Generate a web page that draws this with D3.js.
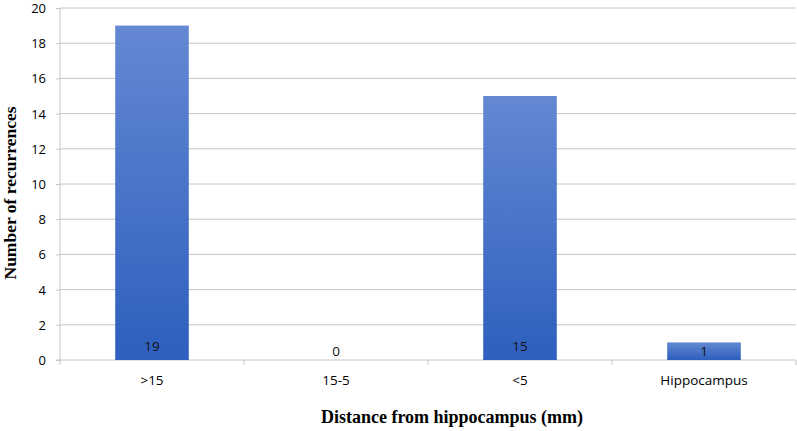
<!DOCTYPE html>
<html><head><meta charset="utf-8">
<script src="https://cdn.jsdelivr.net/npm/d3@7"></script>
<style>body{margin:0;background:#fff}svg{display:block}</style>
</head><body>
<svg id="c" width="797" height="431"></svg>
<script>
const categories = [">15", "15-5", "<5", "Hippocampus"];
const recurrences = [19, 0, 15, 1];
const yTicks = [0, 2, 4, 6, 8, 10, 12, 14, 16, 18, 20];

const svg = d3.select("#c");
const mLeft = 60, mRight = 796, mTop = 8, mBottom = 360;
const sansFont = "'Open Sans', 'Noto Sans', Arial, sans-serif";
const serifFont = "'Liberation Serif', 'Times New Roman', serif";
const x = d3.scaleBand().domain(categories).range([mLeft, mRight]).paddingInner(0.6).paddingOuter(0.3);
const xb = d3.scaleBand().domain(categories).range([mLeft, mRight]);
const y = d3.scaleLinear().domain([0, 20]).range([mBottom, mTop]);

const defs = svg.append("defs");
const g = defs.append("linearGradient").attr("id", "bg").attr("x1", 0).attr("y1", 0).attr("x2", 0).attr("y2", 1);
g.append("stop").attr("offset", "0%").attr("stop-color", "#6488d2");
g.append("stop").attr("offset", "100%").attr("stop-color", "#2e5fbe");

// grid
svg.append("g").selectAll("line").data(yTicks.filter(d => d > 0)).join("line")
  .attr("x1", mLeft).attr("x2", mRight).attr("y1", d => y(d)).attr("y2", d => y(d))
  .attr("stroke", "#c4c4c4").attr("stroke-width", 1);

// y axis
const yAxis = svg.append("g").attr("transform", `translate(${mLeft},0)`)
  .call(d3.axisLeft(y).tickValues(yTicks).tickSize(4).tickPadding(10));
yAxis.select(".domain").attr("stroke", "#c4c4c4").attr("d", `M-4,${y(0)}H0V${y(20)}`);
yAxis.selectAll(".tick line").attr("stroke", "#c4c4c4");
yAxis.selectAll("text").attr("font-family", sansFont).attr("font-size", 13).attr("fill", "#000")
  .attr("dy", "0.34em");

// x axis
const xAxis = svg.append("g").attr("transform", `translate(0,${mBottom})`);
xAxis.append("line").attr("x1", mLeft).attr("x2", mRight).attr("y1", 0).attr("y2", 0).attr("stroke", "#c4c4c4");
const bounds = categories.map(c => xb(c)).concat([xb(categories[categories.length-1]) + xb.bandwidth()]);
xAxis.selectAll("line.t").data(bounds).join("line").attr("class", "t")
  .attr("x1", d => d).attr("x2", d => d).attr("y1", 0).attr("y2", 5).attr("stroke", "#c4c4c4");
xAxis.selectAll("text").data(categories).join("text")
  .attr("x", d => xb(d) + xb.bandwidth() / 2).attr("y", 25).attr("text-anchor", "middle")
  .attr("font-family", sansFont).attr("font-size", 13.5).attr("fill", "#000")
  .text(d => d);

// bars
svg.append("g").selectAll("rect").data(recurrences).join("rect")
  .attr("x", (d, i) => x(categories[i])).attr("width", x.bandwidth())
  .attr("y", d => y(d)).attr("height", d => y(0) - y(d))
  .attr("fill", "url(#bg)");

// value labels
svg.append("g").selectAll("text").data(recurrences).join("text")
  .attr("x", (d, i) => x(categories[i]) + x.bandwidth() / 2)
  .attr("y", d => d >= 2 ? y(0) - 9 : y(0) - 4)
  .attr("text-anchor", "middle")
  .attr("font-family", sansFont).attr("font-size", 13.5).attr("fill", "#111")
  .text(d => d);

// titles
svg.append("text").attr("transform", `translate(16,193) rotate(-90)`)
  .attr("text-anchor", "middle").attr("font-family", serifFont)
  .attr("font-weight", "bold").attr("font-size", 17.5).text("Number of recurrences");
svg.append("text").attr("x", 452).attr("y", 423).attr("text-anchor", "middle")
  .attr("font-family", serifFont)
  .attr("font-weight", "bold").attr("font-size", 18).text("Distance from hippocampus (mm)");
</script>
</body></html>
